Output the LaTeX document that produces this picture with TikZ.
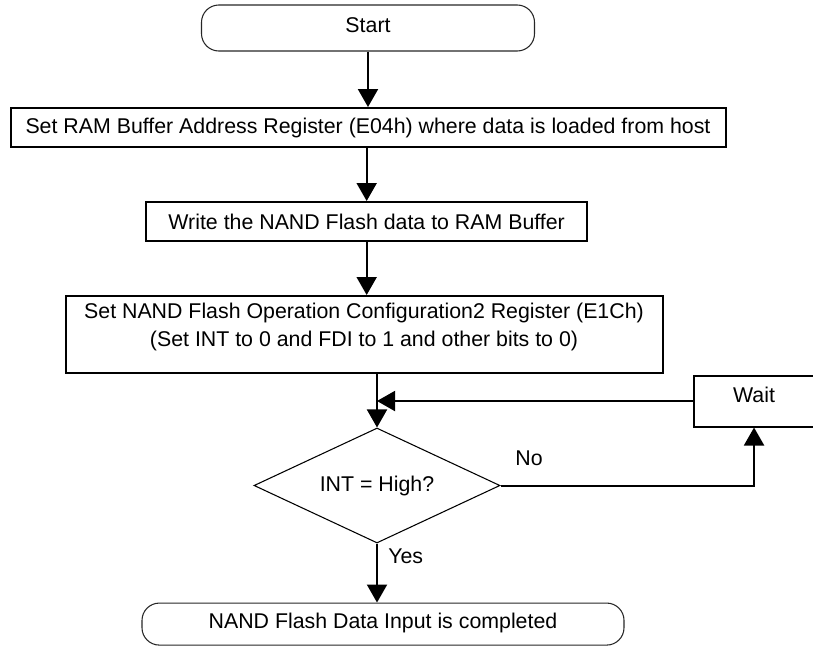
\documentclass[tikz,border=0pt]{standalone}
\usepackage{fontspec}
\setmainfont{Liberation Sans}
\usetikzlibrary{arrows.meta,positioning,shapes.geometric}

\begin{document}
\begin{tikzpicture}[
  x=0.75pt, y=-0.75pt,
  font=\fontsize{16pt}{21pt}\selectfont,
  box/.style={draw=black, rectangle, line width=1.5pt, minimum height=29.25pt,
              align=center, inner sep=2pt},
  term/.style={draw=black!85, rectangle, rounded corners=13pt, line width=0.8pt,
               text depth=5pt, align=center, inner sep=2pt},
  decision/.style={draw=black, diamond, aspect=2.14, line width=0.8pt,
                   minimum width=184.5pt, minimum height=86.25pt, inner sep=0pt},
  arrow/.style={-{Triangle[length=13.5pt, width=15pt]}, line width=1.5pt},
  lbl/.style={inner sep=0pt},
]
  \useasboundingbox (0,0) rectangle (813,646);

  \node[term, minimum width=249.75pt, minimum height=34.5pt] (start) at (368,28) {Start};
  \node[box, minimum width=536.25pt, below=41.6pt of start] (setaddr)
    {Set RAM Buffer Address Register (E04h) where data is loaded from host};
  \node[box, minimum width=330.75pt, below=39.75pt of setaddr, xshift=-1pt] (write)
    {Write the NAND Flash data to RAM Buffer};
  \node[box, minimum width=447.75pt, minimum height=57.75pt, text depth=15pt,
        below=39.75pt of write, xshift=-2pt] (config)
    {Set NAND Flash Operation Configuration2 Register (E1Ch)\\
     (Set INT to 0 and FDI to 1 and other bits to 0)};

  \node[decision, below=40.1pt of config, xshift=9.75pt] (check) {INT = High?};
  \node[box, minimum width=90.75pt, minimum height=38.25pt, text depth=10pt,
        above right=43.5pt and 144pt of check.east] (wait) {Wait};
  \node[term, minimum width=361.5pt, minimum height=31.5pt,
        below=44.25pt of check, xshift=4.5pt] (done) {NAND Flash Data Input is completed};

  \draw[arrow] (start) -- (start |- setaddr.north);
  \draw[arrow] (setaddr.south -| write.north) -- (write.north);
  \draw[arrow] (write.south) -- (write.south |- config.north);
  \draw[arrow] (config.south -| check.north) -- (check.north);
  \draw[arrow] (check.east) -| (wait.south);
  \draw[arrow] (wait.west) -- (wait.west -| check.north);
  \draw[arrow] (check.south) -- (check.south |- done.north);

  \node[lbl, above right=14.5pt and 11pt of check.east] (no) {No};
  \node[lbl, below right=3.75pt and 8.25pt of check.south] (yes) {Yes};
\end{tikzpicture}
\end{document}
